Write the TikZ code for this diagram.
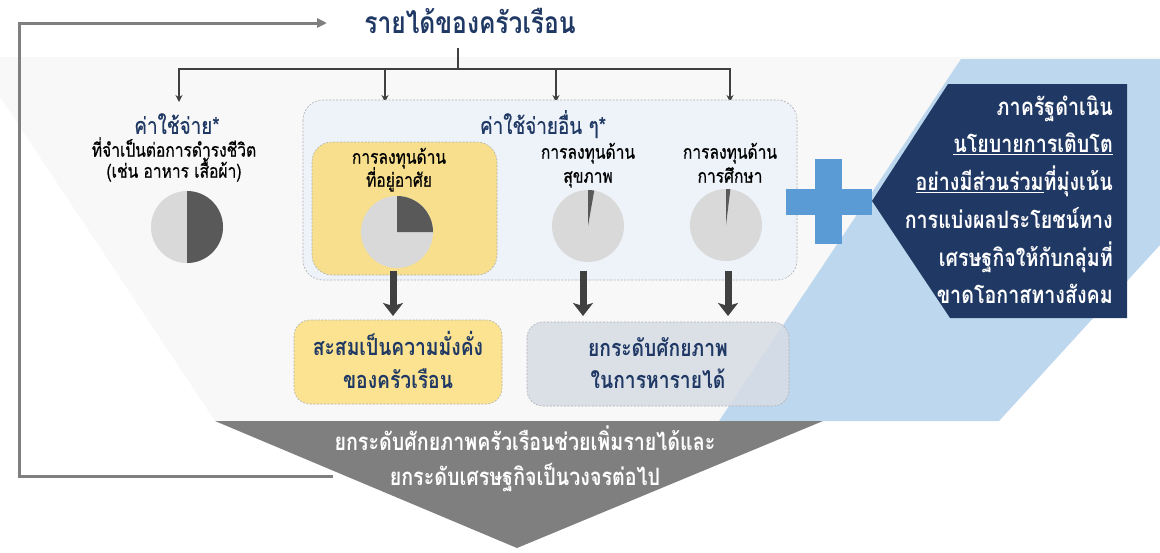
\documentclass[tikz,border=0pt]{standalone}
\usepackage{fontspec}
\usetikzlibrary{arrows.meta}
\newfontfamily\thai[Script=Thai,FakeStretch=0.82]{Loma}
\newfontfamily\thaim[Script=Thai,FakeStretch=0.82,FakeBold=0.6]{Loma}
\newfontfamily\thaib[Script=Thai,FakeStretch=0.82,BoldFont={Loma Bold}]{Loma Bold}
\definecolor{navy}{HTML}{1F3864}
\definecolor{bandgray}{HTML}{F8F8F8}
\definecolor{skyblue}{HTML}{BDD7EE}
\definecolor{plusblue}{HTML}{5B9BD5}
\definecolor{boxnavy}{HTML}{203864}
\definecolor{funnelgray}{HTML}{7F7F7F}
\definecolor{piedark}{HTML}{595959}
\definecolor{pielight}{HTML}{D9D9D9}
\definecolor{arrowdark}{HTML}{404040}
\definecolor{paleblue}{HTML}{EEF3FA}
\definecolor{yellowbox}{HTML}{F7DF8D}
\definecolor{yellowout}{HTML}{FBE391}
\definecolor{grayblue}{HTML}{D6DCE5}
\definecolor{dashgray}{HTML}{B0B0B0}
\begin{document}
\begin{tikzpicture}[x=1pt,y=-1pt,font=\thai,
  ln/.style={inner sep=0pt,text depth=0pt},
  title/.style={ln,text height=18pt,text=navy,font=\thaib\fontsize{30}{30}\selectfont},
  head/.style={ln,text height=13.8pt,text=navy,font=\thaim\fontsize{23}{23}\selectfont},
  body/.style={ln,text height=11.4pt,text=black,font=\thaim\fontsize{19}{19}\selectfont},
  outtxt/.style={ln,text height=14.1pt,text=navy,font=\thaib\fontsize{23.5}{23.5}\selectfont},
  govtxt/.style={ln,text height=14.4pt,anchor=east,text=white,font=\thaib\fontsize{24}{24}\selectfont},
  funtxt/.style={ln,text height=14.4pt,text=white,font=\thaib\fontsize{24}{24}\selectfont},
  tree/.style={draw=arrowdark,line width=2pt},
  treearrow/.style={tree,-{Stealth[length=7pt,width=7pt]}},
  bigarrow/.style={draw=arrowdark,line width=7pt,-{Stealth[length=13pt,width=20pt,inset=3pt]}},
  feedback/.style={draw=funnelgray,line width=3pt,-{Stealth[length=10pt,width=9pt,inset=0pt]}},
  dashbox/.style={draw=dashgray,line width=0.6pt,dash pattern=on 2pt off 1.5pt,rounded corners=20pt}]
\useasboundingbox (0,0) rectangle (1160,552);
% background shapes
\fill[bandgray] (0,57) -- (1160,57) -- (1160,245) -- (999,421) -- (215,421) -- (0,97) -- cycle;
\fill[skyblue] (961,59) -- (1160,59) -- (1160,245) -- (999,421) -- (719,421) -- cycle;
\fill[funnelgray] (215,421) -- (823,421) -- (517,548) -- cycle;
% title and tree
\node[title] (t) at (470,24) {รายได้ของครัวเรือน};
\coordinate (tj) at (458,69);
\coordinate (a1) at (179,102);
\coordinate (a2) at (385,102);
\coordinate (a3) at (556,102);
\coordinate (a4) at (730,102);
\draw[tree] (tj |- 0,48) -- (tj);
\draw[treearrow] (tj) -| (a1);
\draw[treearrow] (tj) -| (a2);
\draw[treearrow] (tj) -| (a3);
\draw[treearrow] (tj) -| (a4);
% left group
\node[head] (e1) at (177,127) {ค่าใช้จ่าย*};
\node[body] (e1b) at (174,151) {ที่จำเป็นต่อการดำรงชีวิต};
\node[body] (e1c) at (174,172) {(เช่น อาหาร เสื้อผ้า)};
\coordinate (p1) at (187,227);
\fill[pielight] (p1) circle[radius=36];
\fill[piedark] (p1) -- ++(-90:36) arc[start angle=-90,end angle=90,radius=36] -- cycle;
% other expenses box
\draw[dashbox,fill=paleblue] (303,100) rectangle (797,280);
\node[head] (e2) at (543,127) {ค่าใช้จ่ายอื่น ๆ*};
\draw[dashbox,fill=yellowbox] (312,142) rectangle (497,275);
\node[body] (h1) at (399,158) {การลงทุนด้าน};
\node[body] (h2) at (399,181) {ที่อยู่อาศัย};
\coordinate (p2) at (397,232);
\fill[pielight] (p2) circle[radius=36];
\fill[piedark] (p2) -- ++(-90:36) arc[start angle=-90,end angle=0,radius=36] -- cycle;
\node[body] (s1) at (588,153) {การลงทุนด้าน};
\node[body] (s2) at (588,177) {สุขภาพ};
\coordinate (p3) at (588,226);
\fill[pielight] (p3) circle[radius=36];
\fill[piedark] (p3) -- ++(-90:36) arc[start angle=-90,end angle=-80,radius=36] -- cycle;
\node[body] (d1) at (730,153) {การลงทุนด้าน};
\node[body] (d2) at (730,177) {การศึกษา};
\coordinate (p4) at (726,225);
\fill[pielight] (p4) circle[radius=36];
\fill[piedark] (p4) -- ++(-90:36) arc[start angle=-90,end angle=-83,radius=36] -- cycle;
% output boxes
\draw[dashbox,fill=yellowout,rounded corners=16pt] (294,320) rectangle (502,404);
\node[outtxt] (o1) at (398,348) {สะสมเป็นความมั่งคั่ง};
\node[outtxt] (o2) at (398,381) {ของครัวเรือน};
\draw[dashbox,fill=grayblue,fill opacity=0.85,rounded corners=16pt] (527,322) rectangle (789,406);
\node[outtxt] (o3) at (658,349) {ยกระดับศักยภาพ};
\node[outtxt] (o4) at (658,381) {ในการหารายได้};
% thick arrows
\coordinate (b1s) at (393,271); \coordinate (b1e) at (393,316);
\coordinate (b2s) at (583,271); \coordinate (b2e) at (583,316);
\coordinate (b3s) at (728,271); \coordinate (b3e) at (728,316);
\draw[bigarrow] (b1s) -- (b1e);
\draw[bigarrow] (b2s) -- (b2e);
\draw[bigarrow] (b3s) -- (b3e);
% plus sign
\fill[plusblue] (786,189) rectangle (872,215);
\fill[plusblue] (815,159) rectangle (842,244);
% government box
\fill[boxnavy] (948,84) -- (1127,84) -- (1127,318) -- (950,318) -- (872,201) -- cycle;
\node[govtxt] (g1) at (1113,108) {ภาครัฐดำเนิน};
\node[govtxt] (g2) at (1113,145) {\underline{นโยบายการเติบโต}};
\node[govtxt] (g3) at (1113,183) {\underline{อย่างมีส่วนร่วม}ที่มุ่งเน้น};
\node[govtxt] (g4) at (1113,221) {การแบ่งผลประโยชน์ทาง};
\node[govtxt] (g5) at (1113,259) {เศรษฐกิจให้กับกลุ่มที่};
\node[govtxt] (g6) at (1113,296) {ขาดโอกาสทางสังคม};
% funnel text
\node[funtxt] (f1) at (525,443) {ยกระดับศักยภาพครัวเรือนช่วยเพิ่มรายได้และ};
\node[funtxt] (f2) at (525,478) {ยกระดับเศรษฐกิจเป็นวงจรต่อไป};
% feedback loop
\coordinate (fb0) at (333,476);
\coordinate (fb1) at (19,476);
\coordinate (fb2) at (19,23);
\coordinate (fb3) at (327,23);
\draw[feedback] (fb0) -- (fb1) -- (fb2) -- (fb3);
\end{tikzpicture}
\end{document}
